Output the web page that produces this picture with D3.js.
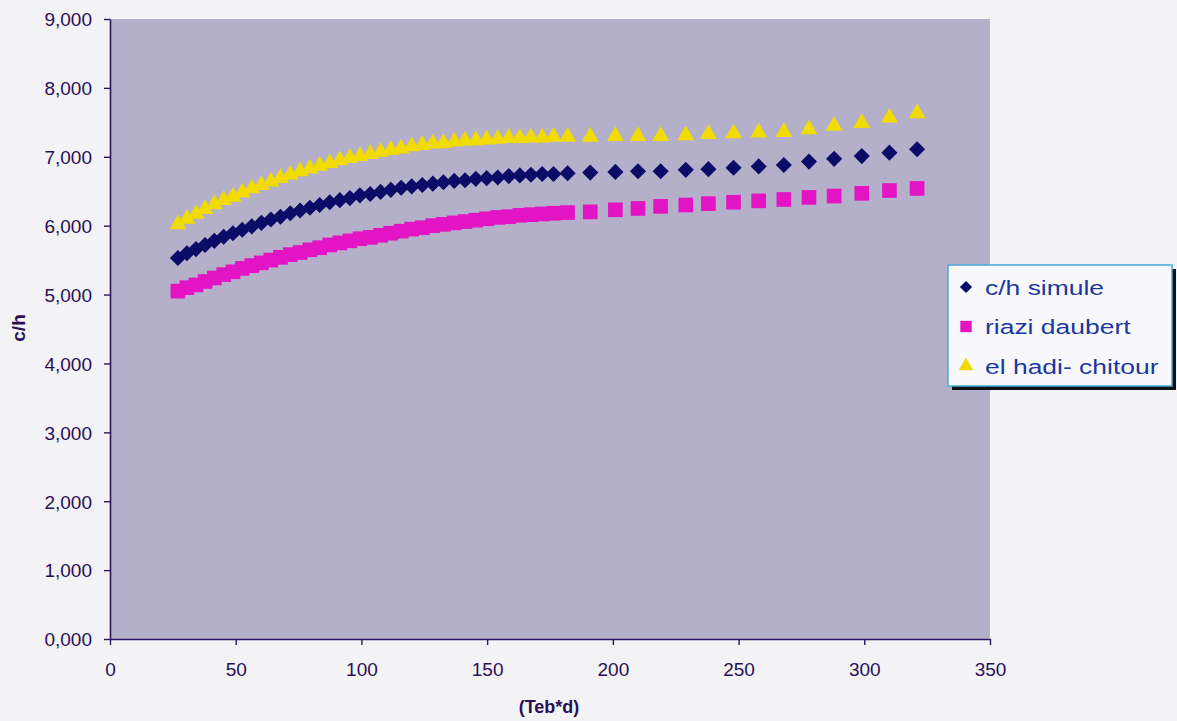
<!DOCTYPE html>
<html>
<head>
<meta charset="utf-8">
<script src="https://cdn.jsdelivr.net/npm/d3@7"></script>
<style>
  html, body { margin: 0; padding: 0; background: #f3f3f6; }
  svg { display: block; }
</style>
</head>
<body>
<svg id="chart" width="1177" height="721"></svg>
<script>
// ---- data ----
const xValues = [27, 30.6, 34.2, 37.8, 41.5, 45.2, 48.9, 52.6, 56.4, 60.2, 64.0, 67.8, 71.7, 75.6, 79.5, 83.4, 87.4, 91.4, 95.4, 99.4,
  103.5, 107.6, 111.7, 115.8, 120.0, 124.2, 128.4, 132.6, 136.9, 141.2, 145.5, 149.8, 154.2, 158.6, 163.0, 167.4, 171.9, 176.4,
  182, 191, 201, 210, 219, 229, 238, 248, 258, 268, 278, 288, 299, 310, 321];

const chSimule = [5.53, 5.60, 5.66, 5.72, 5.78, 5.84, 5.89, 5.94, 5.99, 6.04, 6.09, 6.13, 6.18, 6.22, 6.26, 6.30, 6.34, 6.37, 6.40, 6.44,
  6.46, 6.49, 6.52, 6.55, 6.57, 6.59, 6.61, 6.63, 6.65, 6.66, 6.68, 6.69, 6.70, 6.72, 6.73, 6.74, 6.75, 6.75,
  6.76, 6.77, 6.78, 6.79, 6.79, 6.81, 6.82, 6.84, 6.86, 6.88, 6.93, 6.97, 7.01, 7.06, 7.11];

const riaziDaubert = [5.05, 5.10, 5.14, 5.19, 5.24, 5.29, 5.33, 5.38, 5.42, 5.46, 5.50, 5.54, 5.58, 5.61, 5.65, 5.68, 5.72, 5.75, 5.78, 5.81,
  5.83, 5.86, 5.89, 5.92, 5.95, 5.97, 6.00, 6.02, 6.04, 6.06, 6.08, 6.10, 6.12, 6.13, 6.15, 6.16, 6.17, 6.18,
  6.19, 6.20, 6.23, 6.25, 6.28, 6.30, 6.32, 6.34, 6.36, 6.38, 6.41, 6.43, 6.47, 6.51, 6.54];

const elHadiChitour = [6.02, 6.10, 6.17, 6.24, 6.31, 6.37, 6.42, 6.48, 6.54, 6.59, 6.64, 6.69, 6.74, 6.79, 6.83, 6.87, 6.91, 6.95, 6.98, 7.01,
  7.04, 7.07, 7.10, 7.12, 7.15, 7.17, 7.19, 7.20, 7.22, 7.23, 7.24, 7.25, 7.26, 7.27, 7.27, 7.28, 7.28, 7.29,
  7.29, 7.29, 7.30, 7.30, 7.30, 7.31, 7.33, 7.34, 7.35, 7.36, 7.40, 7.45, 7.49, 7.57, 7.63];

const seriesNames = ["c/h simule", "riazi daubert", "el hadi- chitour"];
const xTicks = [0, 50, 100, 150, 200, 250, 300, 350];
const yTicks = [0, 1, 2, 3, 4, 5, 6, 7, 8, 9];
const xTitle = "(Teb*d)";
const yTitle = "c/h";

// ---- layout ----
const svg = d3.select("#chart");
const plot = { left: 110, right: 990, top: 19, bottom: 639 };
const font = "Liberation Sans, Arial, sans-serif";

const x = d3.scaleLinear().domain([0, 350]).range([plot.left, plot.right]);
const y = d3.scaleLinear().domain([0, 9]).range([plot.bottom, plot.top]);

const fmtY = v => d3.format(".3f")(v).replace(".", ",");

// plot background
svg.append("rect")
  .attr("x", plot.left).attr("y", plot.top)
  .attr("width", plot.right - plot.left).attr("height", plot.bottom - plot.top)
  .attr("fill", "#b4b0c9");

const axisColor = "#2a1460";
const labelColor = "#2a0f55";

// axes
const yAxis = svg.append("g")
  .attr("transform", `translate(${plot.left},0)`)
  .call(d3.axisLeft(y).tickValues(yTicks).tickFormat(fmtY).tickSize(6).tickSizeOuter(0).tickPadding(12));
const xAxis = svg.append("g")
  .attr("transform", `translate(0,${plot.bottom})`)
  .call(d3.axisBottom(x).tickValues(xTicks).tickFormat(d3.format("d")).tickSize(6).tickSizeOuter(0).tickPadding(18));

[xAxis, yAxis].forEach(g => {
  g.select(".domain").attr("stroke", axisColor).attr("stroke-width", 1.6);
  g.selectAll(".tick line").attr("stroke", axisColor).attr("stroke-width", 1.4);
  g.selectAll(".tick text")
    .attr("fill", labelColor)
    .style("font-family", font)
    .style("font-size", "19px");
});
yAxis.selectAll(".tick text").attr("dy", "0.36em");

// axis titles
svg.append("text")
  .attr("x", 549).attr("y", 713)
  .attr("text-anchor", "middle")
  .attr("fill", labelColor)
  .style("font-family", font)
  .style("font-size", "18px").style("font-weight", "bold")
  .text(xTitle);
svg.append("text")
  .attr("transform", "translate(25,328) rotate(-90)")
  .attr("text-anchor", "middle")
  .attr("fill", labelColor)
  .style("font-family", font)
  .style("font-size", "19px").style("font-weight", "bold")
  .text(yTitle);

// markers
const colors = ["#0b0b68", "#e214c4", "#f2dc00"];
const shapes = [
  d3.symbol().type(d3.symbolSquare).size(130)(), // diamond (rotated square)
  d3.symbol().type(d3.symbolSquare).size(215)(),
  d3.symbol().type(d3.symbolTriangle).size(125)()
];
const rotations = [45, 0, 0];
const allSeries = [chSimule, riaziDaubert, elHadiChitour];

allSeries.forEach((vals, si) => {
  svg.append("g").selectAll("path")
    .data(vals.map((v, i) => [xValues[i], v]))
    .join("path")
    .attr("d", shapes[si])
    .attr("transform", d => `translate(${x(d[0])},${y(d[1])}) rotate(${rotations[si]})`)
    .attr("fill", colors[si]);
});

// legend
const lg = { x: 948, y: 265, w: 224, h: 121 };
svg.append("rect")
  .attr("x", lg.x + 4).attr("y", lg.y + 4).attr("width", lg.w).attr("height", lg.h)
  .attr("fill", "#111");
svg.append("rect")
  .attr("x", lg.x).attr("y", lg.y).attr("width", lg.w).attr("height", lg.h)
  .attr("fill", "#f9f9fd").attr("stroke", "#4aa8d8").attr("stroke-width", 1.5);

const legendShapes = [
  d3.symbol().type(d3.symbolSquare).size(75)(),
  d3.symbol().type(d3.symbolSquare).size(130)(),
  d3.symbol().type(d3.symbolTriangle).size(95)()
];
seriesNames.forEach((name, i) => {
  const cy = lg.y + 22 + i * 39.5;
  svg.append("path")
    .attr("d", legendShapes[i])
    .attr("transform", `translate(966,${cy}) rotate(${rotations[i]})`)
    .attr("fill", colors[i]);
  svg.append("text")
    .attr("transform", `translate(985,${cy}) scale(1.26,1)`)
    .attr("dy", "0.36em")
    .attr("fill", "#1a36a0")
    .style("font-family", font)
    .style("font-size", "21px")
    .text(name);
});
</script>
</body>
</html>
